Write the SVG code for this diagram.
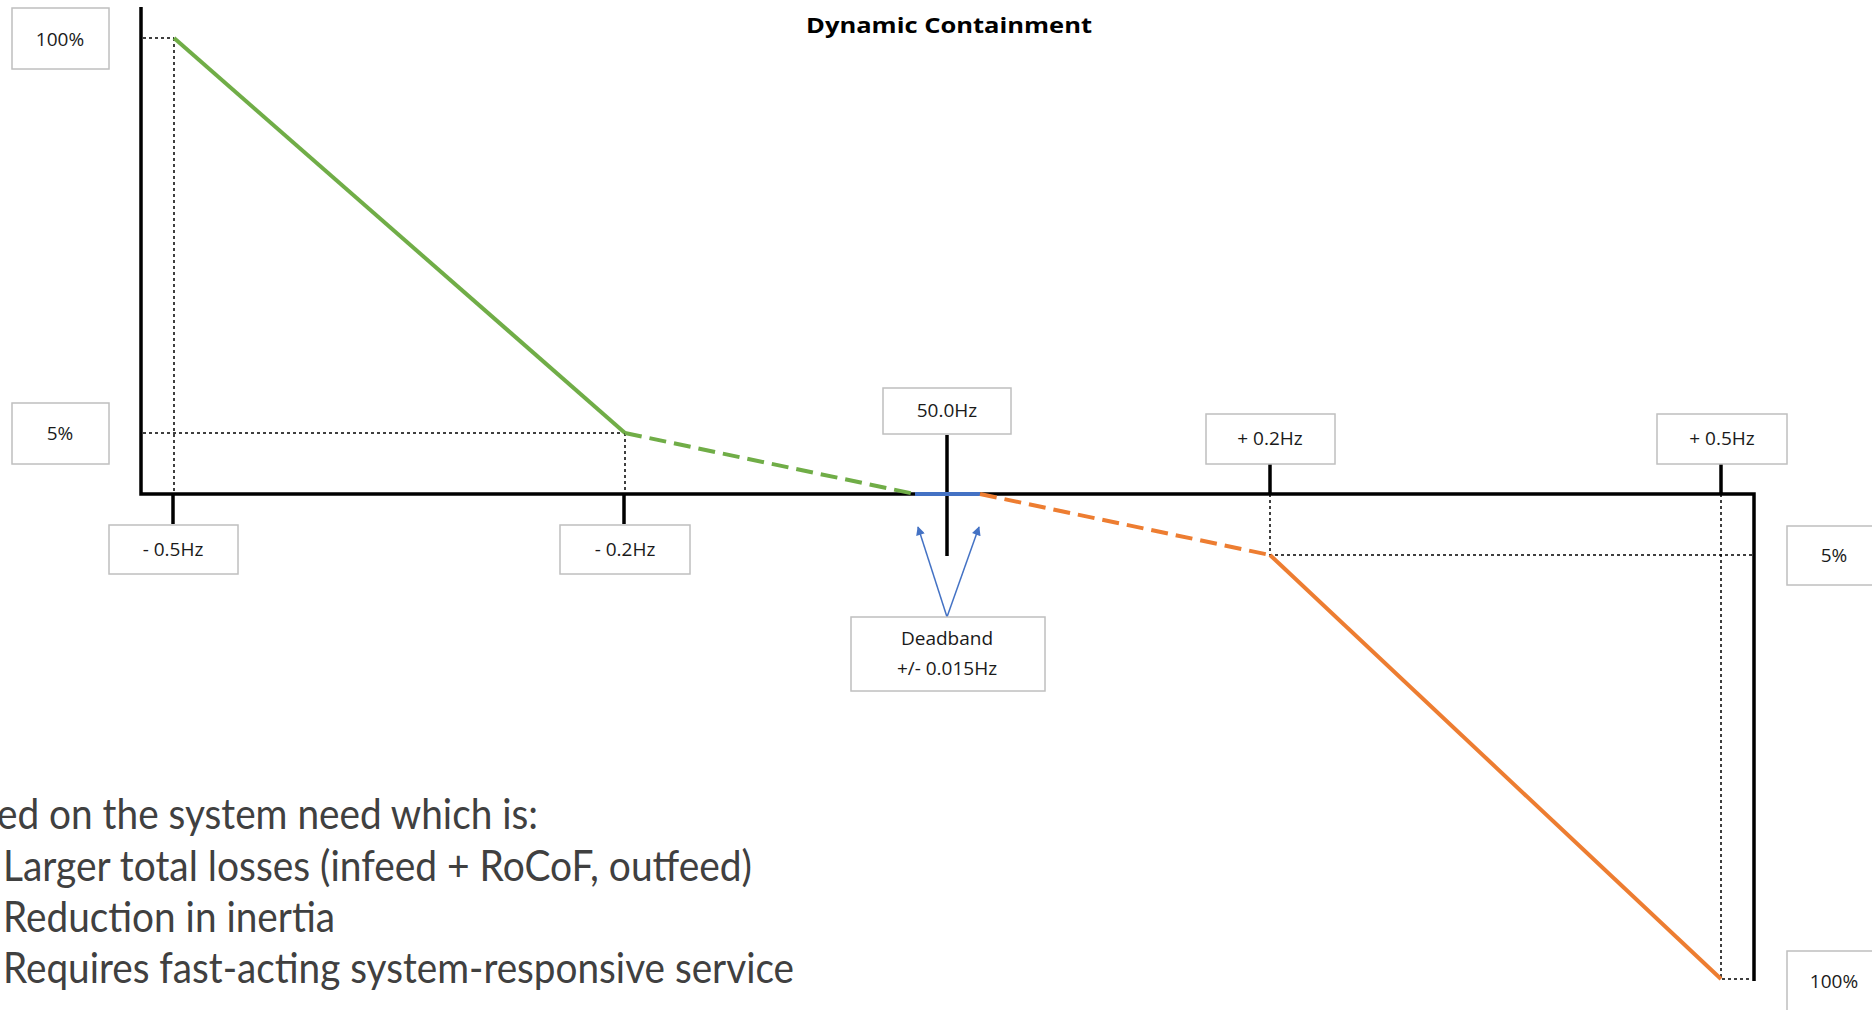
<svg xmlns="http://www.w3.org/2000/svg" width="1872" height="1010" viewBox="0 0 1872 1010">
  <style>
    .box { fill: #ffffff; stroke: #bfbfbf; stroke-width: 1.5; }
    .lbl { font-family: "Open Sans", "Liberation Sans", sans-serif; font-size: 19px; fill: #1a1a1a; text-anchor: middle; }
    .axis { stroke: #000000; stroke-width: 3.5; fill: none; }
    .tick { stroke: #000000; stroke-width: 3.5; }
    .guide { stroke: #000000; stroke-width: 1.5; stroke-dasharray: 3 3; fill: none; }
    .green { stroke: #70AD47; stroke-width: 4; fill: none; }
    .orange { stroke: #ED7D31; stroke-width: 4; fill: none; }
    .dash { stroke-dasharray: 17 8; }
    .blue { stroke: #4472C4; stroke-width: 4; fill: none; }
    .pointer { stroke: #4472C4; stroke-width: 1.5; fill: none; marker-end: url(#tip); }
    .body { font-family: "Lato", "Open Sans", sans-serif; font-size: 42px; fill: #404040; }
    .title { font-family: "Open Sans", "Liberation Sans", sans-serif; font-weight: bold; font-size: 22px; fill: #000000; text-anchor: middle; }
  </style>
  <defs>
    <marker id="tip" viewBox="0 0 10 10" refX="9" refY="5" markerWidth="11" markerHeight="9" markerUnits="userSpaceOnUse" orient="auto">
      <path d="M0,0 L10,5 L0,10 z" fill="#4472C4"/>
    </marker>
  </defs>

  <rect width="1872" height="1010" fill="#ffffff"/>

  <!-- heading -->
  <text class="title" x="949" y="33" textLength="286" lengthAdjust="spacingAndGlyphs">Dynamic Containment</text>

  <g id="connectors">
    <!-- dotted guides -->
    <path class="guide" d="M143,38 H174 M174,38 V493"/>
    <path class="guide" d="M143,433 H625 M625,433 V493"/>
    <path class="guide" d="M1270,494 V555 H1752"/>
    <path class="guide" d="M1721,494 V979 H1752"/>

    <!-- axes -->
    <path class="axis" d="M141,7 V494 H1754 V981"/>

    <!-- ticks -->
    <line class="tick" x1="173" y1="494" x2="173" y2="524"/>
    <line class="tick" x1="624" y1="494" x2="624" y2="524"/>
    <line class="tick" x1="947" y1="435" x2="947" y2="556"/>
    <line class="tick" x1="1270" y1="464" x2="1270" y2="494"/>
    <line class="tick" x1="1721" y1="464" x2="1721" y2="494"/>

    <!-- response curve -->
    <line class="green" x1="174" y1="38" x2="625" y2="433"/>
    <line class="green dash" x1="625" y1="433" x2="915" y2="494"/>
    <line class="blue" x1="915" y1="494" x2="980" y2="494"/>
    <line class="orange dash" x1="980" y1="494" x2="1270" y2="555"/>
    <line class="orange" x1="1270" y1="555" x2="1721" y2="979"/>

    <!-- deadband pointers -->
    <line class="pointer" x1="947" y1="617" x2="918" y2="527"/>
    <line class="pointer" x1="947" y1="617" x2="979" y2="527"/>
  </g>

  <g id="label-100-top">
    <rect class="box" x="12" y="8" width="97" height="61"/>
    <text class="lbl" x="60" y="46">100%</text>
  </g>
  <g id="label-5-left">
    <rect class="box" x="12" y="403" width="97" height="61"/>
    <text class="lbl" x="60" y="440">5%</text>
  </g>
  <g id="label-minus-05">
    <rect class="box" x="109" y="525" width="129" height="49"/>
    <text class="lbl" x="173" y="556">- 0.5Hz</text>
  </g>
  <g id="label-minus-02">
    <rect class="box" x="560" y="525" width="130" height="49"/>
    <text class="lbl" x="625" y="556">- 0.2Hz</text>
  </g>
  <g id="label-50">
    <rect class="box" x="883" y="388" width="128" height="46"/>
    <text class="lbl" x="947" y="417">50.0Hz</text>
  </g>
  <g id="label-plus-02">
    <rect class="box" x="1206" y="414" width="129" height="50"/>
    <text class="lbl" x="1270" y="445">+ 0.2Hz</text>
  </g>
  <g id="label-plus-05">
    <rect class="box" x="1657" y="414" width="130" height="50"/>
    <text class="lbl" x="1722" y="445">+ 0.5Hz</text>
  </g>
  <g id="label-5-right">
    <rect class="box" x="1787" y="526" width="100" height="59"/>
    <text class="lbl" x="1834" y="562">5%</text>
  </g>
  <g id="label-100-bottom">
    <rect class="box" x="1787" y="951" width="100" height="70"/>
    <text class="lbl" x="1834" y="988">100%</text>
  </g>
  <g id="label-deadband">
    <rect class="box" x="851" y="617" width="194" height="74"/>
    <text class="lbl" x="947" y="645">Deadband</text>
    <text class="lbl" x="947" y="675">+/- 0.015Hz</text>
  </g>

  <!-- notes beneath the chart -->
  <g id="notes">
    <text class="body" x="-3" y="829" textLength="541" lengthAdjust="spacingAndGlyphs">ed on the system need which is:</text>
    <text class="body" x="3" y="881" textLength="749" lengthAdjust="spacingAndGlyphs">Larger total losses (infeed + RoCoF, outfeed)</text>
    <text class="body" x="3" y="932" textLength="332" lengthAdjust="spacingAndGlyphs">Reduction in inertia</text>
    <text class="body" x="3" y="983" textLength="791" lengthAdjust="spacingAndGlyphs">Requires fast-acting system-responsive service</text>
  </g>
</svg>
